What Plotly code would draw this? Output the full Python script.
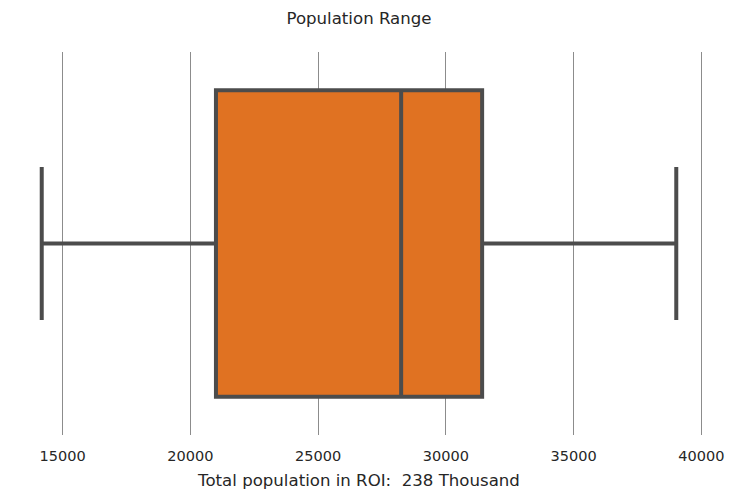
import plotly.graph_objects as go

# Data
q1_vals = [21000]
median_vals = [28250]
q3_vals = [31420]
lower_vals = [14180]
upper_vals = [39020]
x_ticks = [15000, 20000, 25000, 30000, 35000, 40000]
title_text = "Population Range"
xlabel = "Total population in ROI:  238 Thousand"

fig = go.Figure()
fig.add_trace(go.Box(
    y=[0], q1=q1_vals, median=median_vals, q3=q3_vals,
    lowerfence=lower_vals, upperfence=upper_vals,
    orientation="h", width=0.8, whiskerwidth=0.5,
    fillcolor="#e07222", line=dict(color="#4c4c4c", width=4),
    boxpoints=False, showlegend=False, hoverinfo="skip",
))

W, H = 727, 490
span = upper_vals[0] - lower_vals[0]
fig.update_layout(
    width=W, height=H,
    margin=dict(l=2, r=27, t=44, b=63),
    paper_bgcolor="white", plot_bgcolor="white",
    font=dict(family="DejaVu Sans", color="#262626"),
    title=dict(text=title_text, x=(2 + 700) / 2 / W, xanchor="center", y=1 - 10 / H, yanchor="middle",
               font=dict(size=16.6, color="#262626")),
    xaxis=dict(range=[lower_vals[0] - 0.05*span, upper_vals[0] + 0.05*span],
               tickvals=x_ticks, ticktext=[str(v) for v in x_ticks],
               showgrid=True, gridcolor="#8c8c8c", gridwidth=1.3,
               zeroline=False, showline=False, ticks="", ticklabelstandoff=10,
               tickfont=dict(size=14.5, color="#262626"),
               title=dict(text=xlabel, font=dict(size=16.6, color="#262626"), standoff=11)),
    yaxis=dict(range=[-0.5, 0.5], showticklabels=False, showgrid=False,
               zeroline=False, showline=False, ticks=""),
)
fig.write_html("out.html")
